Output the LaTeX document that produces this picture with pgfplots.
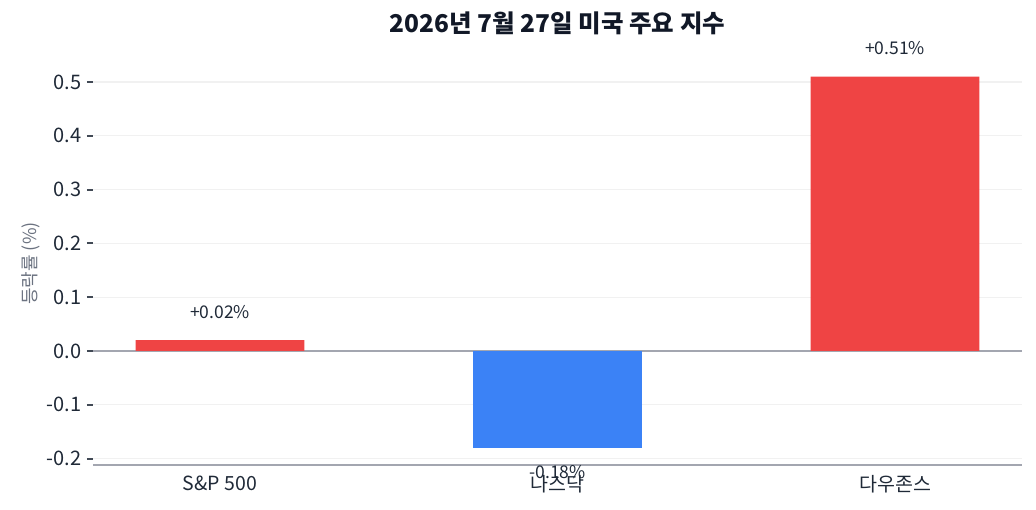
\documentclass[border=0pt]{standalone}
\usepackage{pgfplots}
\pgfplotsset{compat=1.18}
\usepackage{fontspec}
\setmainfont{Noto Sans CJK KR}
\definecolor{upred}{HTML}{EF4444}
\definecolor{downblue}{HTML}{3B82F6}
\definecolor{gridc}{HTML}{F1F1F1}
\definecolor{zeroc}{HTML}{A3A6B0}
\definecolor{titlec}{HTML}{111827}
\definecolor{tickc}{HTML}{1F2937}
\definecolor{labc}{HTML}{6B7280}
\begin{document}
\begin{tikzpicture}[x=1pt,y=1pt]
\path[use as bounding box] (0,0) rectangle (1036,509);
\begin{axis}[
  at={(93pt,44pt)}, anchor=south west,
  width=929pt, height=405pt, scale only axis,
  xmin=-0.376, xmax=2.376,
  ymin=-0.2119, ymax=0.5409,
  axis line style={draw=none},
  axis x line*=bottom,
  axis y line*=left,
  xtick={0,1,2},
  xticklabels={S\&P 500,나스닥,다우존스},
  x tick label style={font=\fontsize{19.5}{22}\selectfont, text=tickc, yshift=-1pt},
  major x tick style={draw=none},
  ytick={-0.2,-0.1,0,0.1,0.2,0.3,0.4,0.5},
  yticklabels={-0.2,-0.1,0.0,0.1,0.2,0.3,0.4,0.5},
  y tick label style={font=\fontsize{20}{22}\selectfont, text=tickc, xshift=-2pt},
  ytick pos=left,
  tick align=outside,
  major tick length=6pt,
  major y tick style={draw=tickc!85, line width=2pt},
  ymajorgrids,
  major grid style={draw=gridc, line width=1.2pt},
  ylabel={등락률 (\%)},
  ylabel style={font=\fontsize{18}{20}\selectfont, text=labc},
  every axis y label/.append style={at={(ticklabel cs:0.527)}, anchor=south, xshift=-12pt},
  title={\textbf{2026년 7월 27일 미국 주요 지수}},
  title style={font=\fontsize{24.5}{28}\selectfont, text=titlec, at={(axis description cs:0.5,1)}, anchor=south, yshift=16pt},
  clip=false,
  nodes near coords style={font=\fontsize{17.5}{20}\selectfont, text=tickc},
]
\draw[zeroc, line width=1.5pt] (axis cs:-0.376,0) -- (axis cs:2.376,0);
\draw[zeroc, line width=1.5pt] (axis cs:-0.376,-0.2119) -- (axis cs:2.376,-0.2119);
\addplot[ybar, bar width=0.5, fill=upred, draw=none, bar shift=0pt] coordinates {(0,0.02) (2,0.51)};
\addplot[ybar, bar width=0.5, fill=downblue, draw=none, bar shift=0pt] coordinates {(1,-0.18)};
\addplot[only marks, mark=none, nodes near coords={+0.02\%}, nodes near coords align={above}, every node near coord/.append style={yshift=18pt}] coordinates {(0,0.02)};
\addplot[only marks, mark=none, nodes near coords={+0.51\%}, nodes near coords align={above}, every node near coord/.append style={yshift=18pt}] coordinates {(2,0.51)};
\addplot[only marks, mark=none, nodes near coords={-0.18\%}, nodes near coords align={below}, every node near coord/.append style={yshift=-14pt}] coordinates {(1,-0.18)};
\end{axis}
\end{tikzpicture}
\end{document}
